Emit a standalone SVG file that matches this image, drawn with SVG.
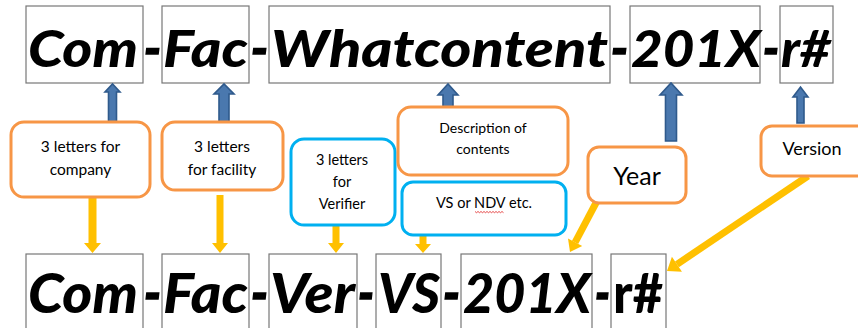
<svg xmlns="http://www.w3.org/2000/svg" width="858" height="328" viewBox="0 0 858 328">
<style>
.seg{fill:#fff;stroke:#777;stroke-width:1.2}
.big{font-family:Lato,"Liberation Sans",sans-serif;font-weight:900;font-style:italic;font-size:52px;fill:#000}
.big2{font-family:Lato,"Liberation Sans",sans-serif;font-weight:900;font-style:italic;font-size:56px;fill:#000}
.hy{stroke:#000;stroke-width:1.5}
.up{font-style:normal}
.or{fill:#fff;stroke:#F79646;stroke-width:3}
.bl{fill:#fff;stroke:#00B0F0;stroke-width:3}
.lbl{font-family:Lato,"Liberation Sans",sans-serif;font-size:15.5px;fill:#000;text-anchor:middle}
.s14{font-size:14.5px}
.s135{font-size:14px}
.s18{font-size:18px}
.s25{font-size:25px}
.barrow{fill:#4A78AE;stroke:#2F5A8C;stroke-width:1.6}
.yarrow{fill:#FFC000}
.yline{stroke:#FFC000;stroke-width:7;fill:none}
</style>

<g id="top-com"><rect class="seg" x="26" y="6" width="117" height="77"/><text class="big" x="28" y="67" textLength="110" lengthAdjust="spacingAndGlyphs">Com</text></g>
<text class="big hy" x="144" y="67" textLength="17" lengthAdjust="spacingAndGlyphs">-</text>
<g id="top-fac"><rect class="seg" x="162" y="6" width="87" height="77"/><text class="big" x="163" y="67" textLength="85" lengthAdjust="spacingAndGlyphs">Fac</text></g>
<text class="big hy" x="251" y="67" textLength="17" lengthAdjust="spacingAndGlyphs">-</text>
<g id="top-what"><rect class="seg" x="269" y="6" width="341" height="77"/><text class="big" x="271" y="67" textLength="337" lengthAdjust="spacingAndGlyphs">Whatcontent</text></g>
<text class="big hy" x="611" y="67" textLength="17" lengthAdjust="spacingAndGlyphs">-</text>
<g id="top-year"><rect class="seg" x="630" y="6" width="130" height="77"/><text class="big" x="631" y="67" textLength="130" lengthAdjust="spacingAndGlyphs">201X</text></g>
<text class="big hy" x="763" y="67" textLength="16" lengthAdjust="spacingAndGlyphs">-</text>
<g id="top-rev"><rect class="seg" x="780" y="6" width="53" height="77"/><text class="big" x="781" y="67" textLength="50" lengthAdjust="spacingAndGlyphs">r#</text></g>

<g id="bot-com"><rect class="seg" x="26" y="254" width="117" height="90"/><text class="big2" x="28" y="313" textLength="110" lengthAdjust="spacingAndGlyphs">Com</text></g>
<text class="big2 hy" x="144" y="313" textLength="17" lengthAdjust="spacingAndGlyphs">-</text>
<g id="bot-fac"><rect class="seg" x="162" y="254" width="87" height="90"/><text class="big2" x="163" y="313" textLength="85" lengthAdjust="spacingAndGlyphs">Fac</text></g>
<text class="big2 hy" x="251" y="313" textLength="17" lengthAdjust="spacingAndGlyphs">-</text>
<g id="bot-ver"><rect class="seg" x="269" y="254" width="88" height="90"/><text class="big2" x="270" y="313" textLength="85" lengthAdjust="spacingAndGlyphs">Ver</text></g>
<text class="big2 hy" x="358" y="313" textLength="16" lengthAdjust="spacingAndGlyphs">-</text>
<g id="bot-vs"><rect class="seg" x="376" y="254" width="65" height="90"/><text class="big2" x="378" y="313" textLength="62" lengthAdjust="spacingAndGlyphs">VS</text></g>
<text class="big2 hy" x="443" y="313" textLength="17" lengthAdjust="spacingAndGlyphs">-</text>
<g id="bot-year"><rect class="seg" x="461" y="254" width="131" height="90"/><text class="big2" x="463" y="313" textLength="128" lengthAdjust="spacingAndGlyphs">201X</text></g>
<text class="big2 hy" x="595" y="313" textLength="15" lengthAdjust="spacingAndGlyphs">-</text>
<g id="bot-rev"><rect class="seg" x="611" y="254" width="55" height="90"/><text class="big2 up" x="613" y="313" textLength="50" lengthAdjust="spacingAndGlyphs">r#</text></g>

<g id="connectors">
<path class="barrow" d="M108.5,123 V92 H105 L112.5,84 L120,92 H116.5 V123 Z"/>
<path class="barrow" d="M219,122 V94 H214 L224,84 L234,94 H229 V122 Z"/>
<path class="barrow" d="M443,107 V95 H438 L448,84 L458,95 H453 V107 Z"/>
<path class="barrow" d="M665.5,141 V95 H660 L671,83 L682,95 H676.5 V141 Z"/>
<path class="barrow" d="M797,123 V97 H793 L800.5,87 L808,97 H804 V123 Z"/>
<path class="yarrow" d="M88.5,197 V243 H84 L92.5,253 L101,243 H96.5 V197 Z"/>
<path class="yarrow" d="M216.5,195 V243 H212 L220,253 L228,243 H223.5 V195 Z"/>
<path class="yarrow" d="M332.5,225 V243 H328 L336,253 L344,243 H339.5 V225 Z"/>
<path class="yarrow" d="M419.5,235 V244 H415 L423,253 L431,244 H426.5 V235 Z"/>
<line class="yline" x1="597" y1="201" x2="575.1" y2="242.3"/>
<polygon class="yarrow" points="570,252 582.2,246 568,238.5"/>
<line class="yline" x1="808" y1="176" x2="676.95" y2="264.29"/>
<polygon class="yarrow" points="667,271 681.98,271.75 671.92,256.83"/>
</g>

<g id="lbl-company"><rect class="or" x="11" y="122" width="139" height="75" rx="13"/><text class="lbl" x="80.5" y="152">3 letters for</text><text class="lbl" x="80.5" y="175">company</text></g>
<g id="lbl-facility"><rect class="or" x="162" y="122" width="121" height="68" rx="13"/><text class="lbl" x="222" y="152">3 letters</text><text class="lbl" x="222" y="175">for facility</text></g>
<g id="lbl-verifier"><rect class="bl" x="291" y="139" width="104" height="86" rx="13"/><text class="lbl s14" x="342" y="165">3 letters</text><text class="lbl s14" x="342" y="187">for</text><text class="lbl s14" x="342" y="209">Verifier</text></g>
<g id="lbl-desc"><rect class="or" x="398" y="107" width="170" height="68" rx="13"/><text class="lbl s135" x="483" y="133">Description of</text><text class="lbl s135" x="483" y="154">contents</text></g>
<g id="lbl-vs"><rect class="bl" x="402" y="182" width="164" height="53" rx="11"/><text class="lbl s14" x="484" y="208">VS or NDV etc.</text><path d="M475,211.5 l1.5,1.2 1.5,-1.2 1.5,1.2 1.5,-1.2 1.5,1.2 1.5,-1.2 1.5,1.2 1.5,-1.2 1.5,1.2 1.5,-1.2 1.5,1.2 1.5,-1.2 1.5,1.2 1.5,-1.2 1.5,1.2 1.5,-1.2 1.5,1.2 1.5,-1.2 1.5,1.2" fill="none" stroke="#E02020" stroke-width="0.8"/></g>
<g id="lbl-year"><rect class="or" x="588" y="147" width="98" height="56" rx="11"/><text class="lbl s25" x="637" y="185">Year</text></g>
<g id="lbl-version"><rect class="or" x="761" y="126" width="110" height="50" rx="11"/><text class="lbl s18" x="812" y="155">Version</text></g>
</svg>
